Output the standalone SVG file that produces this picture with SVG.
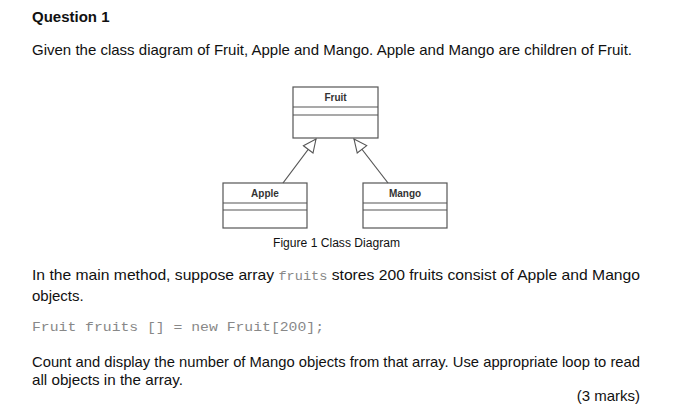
<svg xmlns="http://www.w3.org/2000/svg" width="700" height="416" viewBox="0 0 700 416">
<defs>
<style>
.t{font-family:"Liberation Sans",Arial,sans-serif;font-size:15px;fill:#111}
.m{font-family:"Liberation Mono","Courier New",monospace;font-size:13px;fill:#888}
.b{fill:#fff;stroke:#555;stroke-width:1.2}
.l{stroke:#555;stroke-width:1.2}
.n{font-family:"Liberation Sans",Arial,sans-serif;font-size:10px;font-weight:bold;fill:#333;text-anchor:middle}
</style>
<marker id="tri" markerWidth="16" markerHeight="16" refX="14" refY="7" orient="auto" markerUnits="userSpaceOnUse">
<path d="M1,1 L14,7 L1,13 Z" fill="#fff" stroke="#555" stroke-width="1.1"/>
</marker>
</defs>
<rect width="700" height="416" fill="#fff"/>
<text class="t" x="32" y="22" font-weight="bold">Question 1</text>
<text class="t" x="32" y="55" textLength="600" lengthAdjust="spacingAndGlyphs">Given the class diagram of Fruit, Apple and Mango. Apple and Mango are children of Fruit.</text>
<g id="fruit"><rect class="b" x="293" y="87" width="85" height="51"/><line class="l" x1="293" y1="107" x2="378" y2="107"/><line class="l" x1="293" y1="115" x2="378" y2="115"/><text class="n" x="335.5" y="101">Fruit</text></g>
<g id="apple"><rect class="b" x="223" y="183" width="84" height="45"/><line class="l" x1="223" y1="203" x2="307" y2="203"/><line class="l" x1="223" y1="210" x2="307" y2="210"/><text class="n" x="265" y="197">Apple</text></g>
<g id="mango"><rect class="b" x="363" y="183" width="84" height="45"/><line class="l" x1="363" y1="203" x2="447" y2="203"/><line class="l" x1="363" y1="210" x2="447" y2="210"/><text class="n" x="405" y="197">Mango</text></g>
<g id="connectors">
<line class="l" x1="283" y1="183" x2="316" y2="139" marker-end="url(#tri)"/>
<line class="l" x1="388" y1="183" x2="354" y2="139" marker-end="url(#tri)"/>
</g>
<text class="t" x="273" y="247" style="font-size:12px" textLength="127" lengthAdjust="spacingAndGlyphs">Figure 1 Class Diagram</text>
<text class="t" x="32" y="280" textLength="608" lengthAdjust="spacingAndGlyphs">In the main method, suppose array <tspan class="m">fruits</tspan>  stores 200 fruits consist of Apple and Mango</text>
<text class="t" x="32" y="301">objects.</text>
<text class="m" x="32" y="331" textLength="292" lengthAdjust="spacingAndGlyphs">Fruit fruits [] = new Fruit[200];</text>
<text class="t" x="32" y="367" textLength="608" lengthAdjust="spacingAndGlyphs">Count and display the number of Mango objects from that array. Use appropriate loop to read</text>
<text class="t" x="32" y="385" textLength="151" lengthAdjust="spacingAndGlyphs">all objects in the array.</text>
<text class="t" x="640" y="401" text-anchor="end">(3 marks)</text>
</svg>
